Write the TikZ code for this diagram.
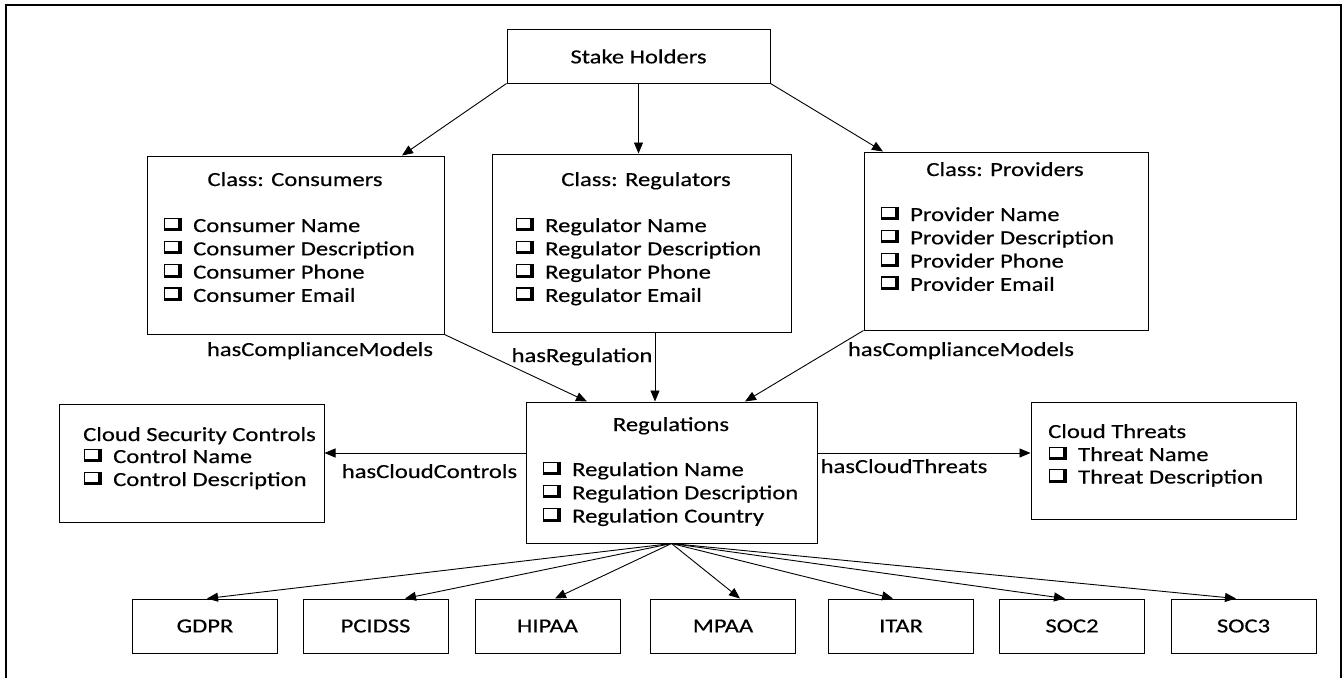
\documentclass[tikz,border=0pt]{standalone}
\usepackage{fontspec}
\setmainfont{Carlito}[FakeStretch=1.23,FakeBold=0.4]
\usetikzlibrary{arrows.meta,calc}

\tikzset{
  txt/.style={font=\fontsize{20}{23.3}\selectfont, inner sep=0pt},
  box/.style={draw, line width=1pt, inner sep=0pt, font=\fontsize{20}{23.3}\selectfont},
  leaf/.style={box, minimum width=145pt, minimum height=54pt},
  ttl/.style={txt, anchor=base},
  lttl/.style={txt, anchor=base west},
  item/.style={txt, anchor=base west},
  rel/.style={line width=0.9pt, -{Triangle[length=11pt,width=9pt]}},
}

% shadowed check box placed left of an item line
\newcommand\chkbox[1]{%
  \fill ($(#1.base west)+(-29,-14.5)$) rectangle ($(#1.base west)+(-11.5,-1)$);
  \fill[white] ($(#1.base west)+(-27.8,-13.3)$) rectangle ($(#1.base west)+(-15,-4)$);
}

\begin{document}
\begin{tikzpicture}[x=1pt,y=-1pt]
\useasboundingbox (0,0) rectangle (1343,677);

% outer frame
\draw[line width=1.5pt] (6,690) -- (6,5) -- (1341,5) -- (1341,690);

% top node
\node[box, minimum width=263pt, minimum height=53pt] (sh) at (638.5,56.5) {Stake Holders};

% class boxes
\node[box, minimum width=297pt, minimum height=178pt] (cons) at (295.5,245) {};
\node[ttl] (cons-t) at (295,186) {Class: Consumers};
\foreach \t [count=\i] in {Consumer Name, Consumer Description, Consumer Phone, Consumer Email} {
  \node[item] (cons-\i) at (193,{232+23.3*(\i-1)}) {\t};
  \chkbox{cons-\i}
}

\node[box, minimum width=299pt, minimum height=178pt] (regs) at (641.5,243) {};
\node[ttl] (regs-t) at (646,186) {Class: Regulators};
\foreach \t [count=\i] in {Regulator Name, Regulator Description, Regulator Phone, Regulator Email} {
  \node[item] (regs-\i) at (545,{232+23.3*(\i-1)}) {\t};
  \chkbox{regs-\i}
}

\node[box, minimum width=284pt, minimum height=178pt] (prov) at (1006,241) {};
\node[ttl] (prov-t) at (1005,176) {Class: Providers};
\foreach \t [count=\i] in {Provider Name, Provider Description, Provider Phone, Provider Email} {
  \node[item] (prov-\i) at (910,{221+23.3*(\i-1)}) {\t};
  \chkbox{prov-\i}
}

% central node
\node[box, minimum width=291pt, minimum height=141pt] (regl) at (671.5,472.5) {};
\node[ttl] (regl-t) at (671,431) {Regulations};
\foreach \t [count=\i] in {Regulation Name, Regulation Description, Regulation Country} {
  \node[item] (regl-\i) at (572,{476+23.3*(\i-1)}) {\t};
  \chkbox{regl-\i}
}

% side nodes
\node[box, minimum width=265pt, minimum height=118pt] (ctrl) at (191.5,463) {};
\node[lttl] (ctrl-t) at (83,441) {Cloud Security Controls};
\foreach \t [count=\i] in {Control Name, Control Description} {
  \node[item] (ctrl-\i) at (113,{463+23*(\i-1)}) {\t};
  \chkbox{ctrl-\i}
}

\node[box, minimum width=265pt, minimum height=117pt] (thr) at (1163.5,460.5) {};
\node[lttl] (thr-t) at (1048,438) {Cloud Threats};
\foreach \t [count=\i] in {Threat Name, Threat Description} {
  \node[item] (thr-\i) at (1078,{461+22.5*(\i-1)}) {\t};
  \chkbox{thr-\i}
}

% regulation frameworks
\node[leaf] (gdpr)   at (205,626)    {GDPR};
\node[leaf] (pcidss) at (375.5,626)  {PCIDSS};
\node[leaf] (hipaa)  at (547.5,626)  {HIPAA};
\node[leaf] (mpaa)   at (723,626)    {MPAA};
\node[leaf] (itar)   at (901,626)    {ITAR};
\node[leaf] (soc2)   at (1072,626)   {SOC2};
\node[leaf] (soc3)   at (1243.5,626) {SOC3};

% connectors
\draw[rel] (sh.south west) -- ([xshift=106.5pt]cons.north);
\draw[rel] (sh.south) -- (sh.south |- regs.north);
\draw[rel] (sh.south east) -- ([xshift=-123pt]prov.north);

\draw[rel] (cons.south east) -- ([xshift=-84.5pt]regl.north);
\draw[rel] ([xshift=13.5pt]regs.south) -- ([xshift=-16.5pt]regl.north);
\draw[rel] (prov.south west) -- ([xshift=73.5pt]regl.north);

\draw[rel] ([yshift=19.5pt]regl.west) coordinate (cc) -- (cc -| ctrl.east);
\draw[rel] ([yshift=19.5pt]regl.east) coordinate (tc) -- (tc -| thr.west);

\foreach \n/\dx in {gdpr/2, pcidss/29.5, hipaa/7.5, mpaa/17, itar/-8, soc2/-7, soc3/-7.5}
  \draw[rel] (regl.south) -- ([xshift=\dx pt]\n.north);

% connector labels
\node[ttl] (l-cm1) at (320,356)   {hasComplianceModels};
\node[ttl] (l-reg) at (582,362)   {hasRegulation};
\node[ttl] (l-cm2) at (961,356)   {hasComplianceModels};
\node[ttl] (l-cc)  at (429.5,478) {hasCloudControls};
\node[ttl] (l-ct)  at (904,473)   {hasCloudThreats};
\end{tikzpicture}
\end{document}
